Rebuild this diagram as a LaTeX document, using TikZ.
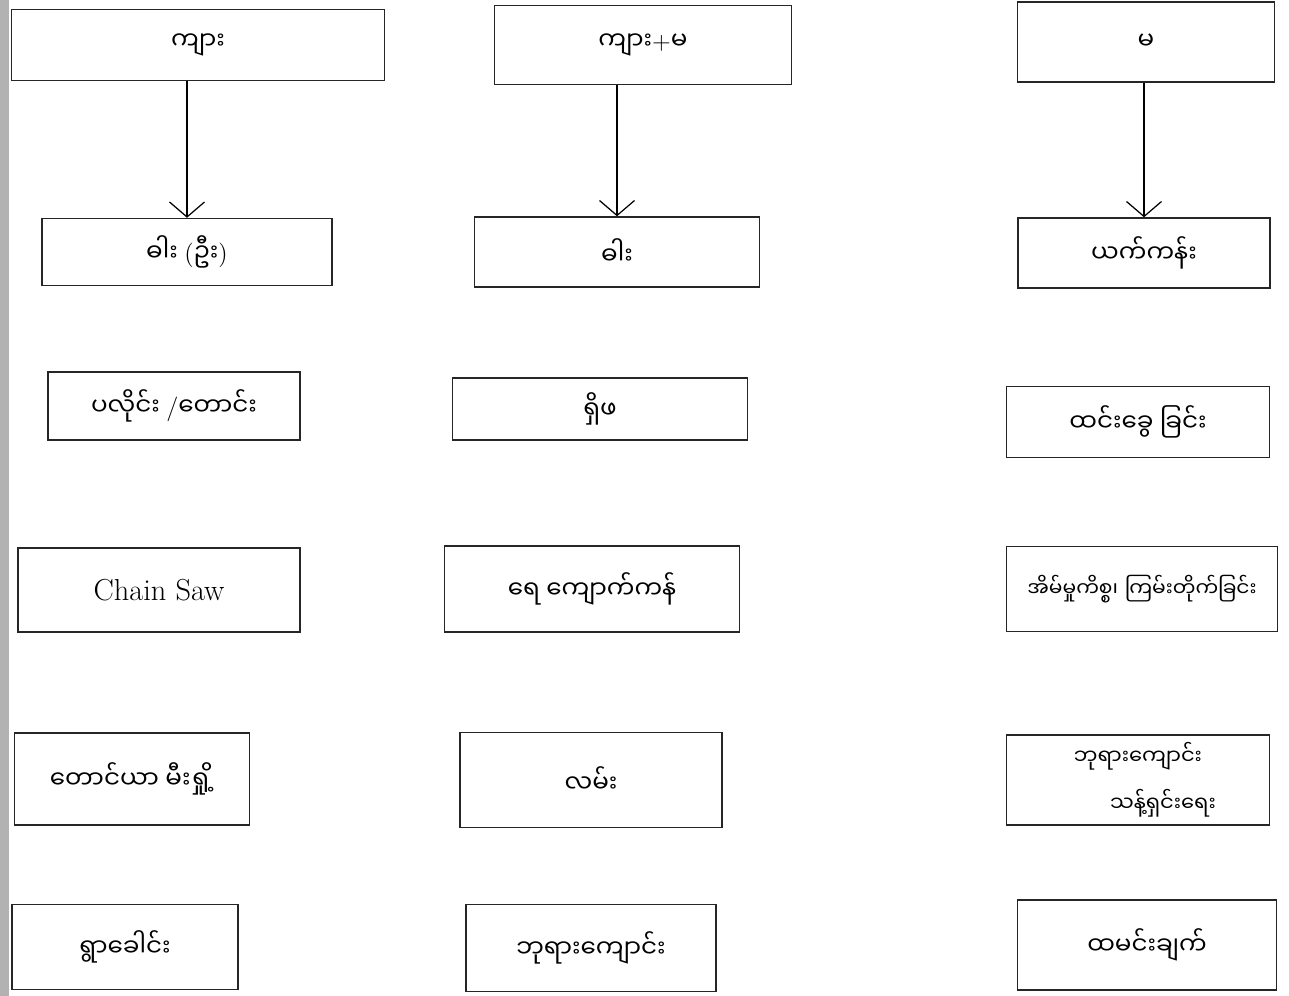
\documentclass[tikz,border=0pt]{standalone}
\usepackage{fontspec}
\usepackage{tikz}
\usetikzlibrary{arrows.meta, positioning}
\newfontfamily\mmfont[Script=Myanmar]{Noto Sans Myanmar UI}
\newcommand{\lat}[1]{{\normalfont\fontsize{14}{20}\selectfont #1}}

\begin{document}
\begin{tikzpicture}[
    x=0.02cm, y=-0.02cm,
    box/.style={rectangle, draw=black!85, line width=0.8pt, text centered, font=\mmfont\fontsize{14}{26}\selectfont},
    arrow/.style={-{Straight Barb[length=3mm,width=7mm]}, line width=0.7pt}
]
\useasboundingbox (0,0) rectangle (1289,996);
\fill[black!30] (0,0) rectangle (9,996);

% Male
\node[box, minimum width=7.46cm, minimum height=1.42cm] (male) at (198,45) {ကျား};
\node[box, minimum width=5.8cm, minimum height=1.34cm] (m_knife) at (187,252) {ဓါး \lat{(}ဦး\lat{)}};
\node[box, minimum width=5.04cm, minimum height=1.36cm] (m_basket) at (174,406) {ပလိုင်း \lat{/}တောင်း};
\node[box, minimum width=5.64cm, minimum height=1.68cm, font=\LARGE] (m_saw) at (159,590) {Chain Saw};
\node[box, minimum width=4.7cm, minimum height=1.84cm] (m_farm) at (132,779) {တောင်ယာ မီးရှို့};
\node[box, minimum width=4.52cm, minimum height=1.7cm] (m_head) at (125,947) {ရွာခေါင်း};

% Male + Female
\node[box, minimum width=5.94cm, minimum height=1.58cm] (mixed) at (643,45) {ကျား\lat{+}မ};
\node[box, minimum width=5.7cm, minimum height=1.4cm] (b_knife) at (617,252) {ဓါး};
\node[box, minimum width=5.9cm, minimum height=1.24cm] (b_tool) at (600,409) {ရှိဖ};
\node[box, minimum width=5.9cm, minimum height=1.72cm] (b_water) at (592,589) {ရေ ကျောက်ကန်};
\node[box, minimum width=5.24cm, minimum height=1.9cm] (b_road) at (591,780) {လမ်း};
\node[box, minimum width=5cm, minimum height=1.74cm] (b_temple) at (591,948) {ဘုရားကျောင်း};

% Female
\node[box, minimum width=5.14cm, minimum height=1.6cm] (female) at (1146,42) {မ};
\node[box, minimum width=5.04cm, minimum height=1.4cm] (f_weave) at (1144,253) {ယက်ကန်း};
\node[box, minimum width=5.26cm, minimum height=1.42cm] (f_firewood) at (1138,422) {ထင်းခွေ ခြင်း};
\node[box, minimum width=5.42cm, minimum height=1.7cm, text width=5.1cm, font=\mmfont\fontsize{11.5}{20}\selectfont] (f_house) at (1142,589) {အိမ်မှုကိစ္စ၊ ကြမ်းတိုက်ခြင်း};
\node[box, minimum width=5.26cm, minimum height=1.8cm, align=center, inner sep=1pt, font=\mmfont\fontsize{12}{18}\selectfont] (f_temple) at (1138,780) {ဘုရားကျောင်း\\[9pt]\hspace*{1cm}သန့်ရှင်းရေး};
\node[box, minimum width=5.18cm, minimum height=1.8cm] (f_cook) at (1147,945) {ထမင်းချက်};

\draw[arrow] (male.south -| m_knife.north) -- (m_knife.north);
\draw[arrow] (mixed.south -| b_knife.north) -- (b_knife.north);
\draw[arrow] (female.south -| f_weave.north) -- (f_weave.north);

\end{tikzpicture}
\end{document}
